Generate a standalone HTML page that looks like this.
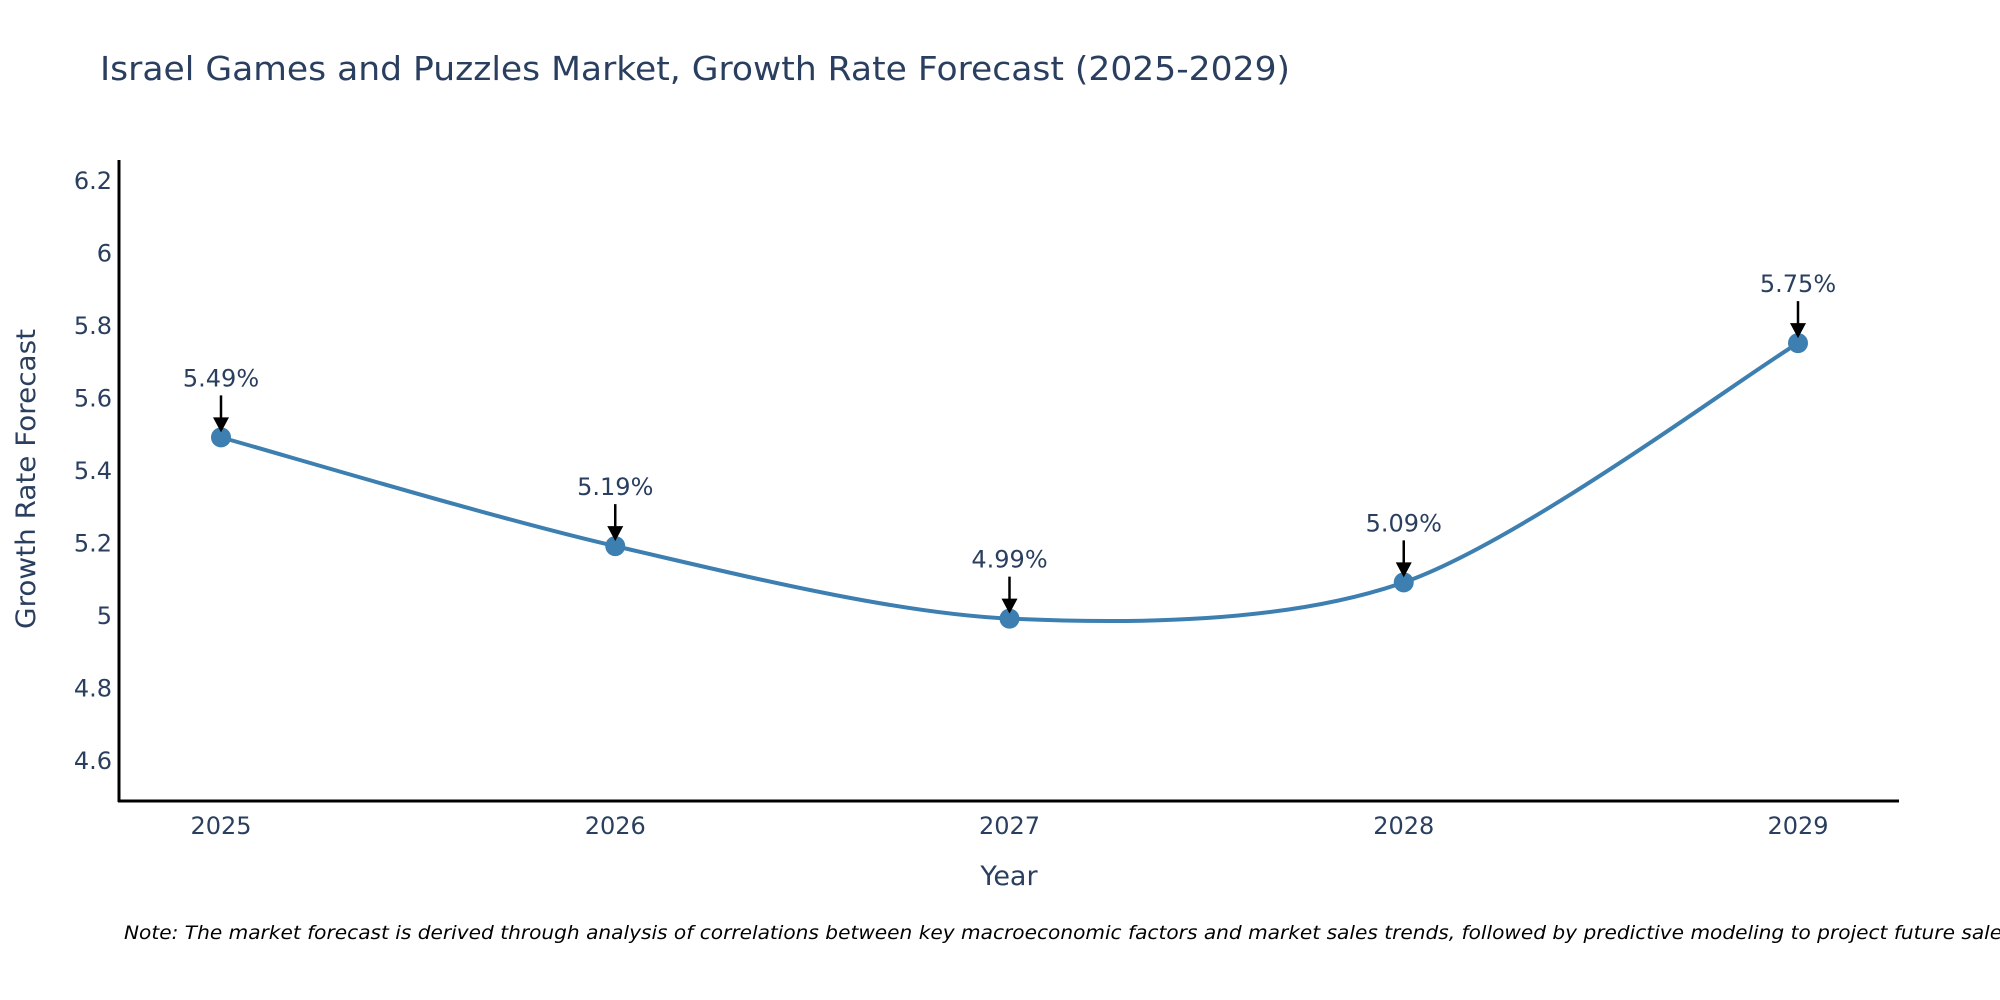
<!DOCTYPE html>
<html><head><meta charset="utf-8">
<style>
html,body{margin:0;padding:0;background:#fff;overflow:hidden;}
svg{display:block;font-family:"DejaVu Sans","Liberation Sans",sans-serif;}
</style></head>
<body>
<svg id="chart" width="2000" height="1000" viewBox="0 0 2000 1000" xmlns="http://www.w3.org/2000/svg">
<rect width="2000" height="1000" fill="#fff"/>
<text x="100" y="80" font-size="33" fill="#2a3f5f" textLength="1190" lengthAdjust="spacingAndGlyphs">Israel Games and Puzzles Market, Growth Rate Forecast (2025-2029)</text>
<g id="yticks"></g>
<g id="xticks"></g>
<line x1="119" y1="160" x2="119" y2="802" stroke="#000" stroke-width="3"/>
<line x1="118" y1="801" x2="1899" y2="801" stroke="#000" stroke-width="3"/>
<text transform="translate(35,479) rotate(-90)" text-anchor="middle" font-size="27" fill="#2a3f5f" textLength="300" lengthAdjust="spacingAndGlyphs">Growth Rate Forecast</text>
<text x="1009" y="885" text-anchor="middle" font-size="27" fill="#2a3f5f">Year</text>
<g id="series"></g>
<g id="annots"></g>
<text x="124" y="939" font-size="19" font-style="italic" fill="#000" textLength="1895" lengthAdjust="spacingAndGlyphs">Note: The market forecast is derived through analysis of correlations between key macroeconomic factors and market sales trends, followed by predictive modeling to project future sales.</text>
</svg>
<script>
const years = [2025, 2026, 2027, 2028, 2029];
const growth = [5.49, 5.19, 4.99, 5.09, 5.75];
const labels = ["5.49%", "5.19%", "4.99%", "5.09%", "5.75%"];
const yTickValues = [4.6, 4.8, 5, 5.2, 5.4, 5.6, 5.8, 6, 6.2];
const yTickLabels = ["4.6", "4.8", "5", "5.2", "5.4", "5.6", "5.8", "6", "6.2"];

const NS = "http://www.w3.org/2000/svg";
function xs(v){ return 221 + (v - 2025) * 394.25; }
function ys(v){ return 760 - (v - 4.6) * 362.5; }
function mk(tag, attrs, parent){
  const e = document.createElementNS(NS, tag);
  for (const k in attrs) e.setAttribute(k, attrs[k]);
  parent.appendChild(e);
  return e;
}
const yt = document.getElementById('yticks');
yTickValues.forEach((v,i)=>{
  const t = mk('text',{x:112,y:ys(v)+9,'text-anchor':'end','font-size':24,fill:'#2a3f5f'},yt);
  
  
  t.textContent = yTickLabels[i];
});
const xt = document.getElementById('xticks');
years.forEach(y=>{
  const t = mk('text',{x:xs(y),y:834,'text-anchor':'middle','font-size':24,fill:'#2a3f5f'},xt);
  
  
  t.textContent = String(y);
});
const pts = years.map((y,i)=>[xs(y), ys(growth[i])]);
let d = `M${pts[0][0]},${pts[0][1]}`;
const s = 0.15;
for (let i=0;i<pts.length-1;i++){
  const p0 = pts[Math.max(0,i-1)], p1 = pts[i], p2 = pts[i+1], p3 = pts[Math.min(pts.length-1,i+2)];
  const c1 = [p1[0]+(p2[0]-p0[0])*s, p1[1]+(p2[1]-p0[1])*s];
  const c2 = [p2[0]-(p3[0]-p1[0])*s, p2[1]-(p3[1]-p1[1])*s];
  d += ` C${c1[0]},${c1[1]} ${c2[0]},${c2[1]} ${p2[0]},${p2[1]}`;
}
const ser = document.getElementById('series');
const line = mk('path',{d:d,fill:'none',stroke:'#3d7fb0','stroke-width':4},ser);


pts.forEach(p=>{
  const c = mk('circle',{cx:p[0],cy:p[1],r:10,fill:'#3d7fb0'},ser);
  
  
});
const an = document.getElementById('annots');
pts.forEach((p,i)=>{
  const l = mk('line',{x1:p[0],y1:p[1]-42,x2:p[0],y2:p[1]-18,stroke:'#000','stroke-width':2.5},an);
  
  
  const h = mk('polygon',{points:`${p[0]-8},${p[1]-20} ${p[0]+8},${p[1]-20} ${p[0]},${p[1]-5}`,fill:'#000'},an);
  
  
  const t = mk('text',{x:p[0],y:p[1]-51,'text-anchor':'middle','font-size':24,fill:'#2a3f5f'},an);
  
  
  t.textContent = labels[i];
});
</script>
</body></html>
